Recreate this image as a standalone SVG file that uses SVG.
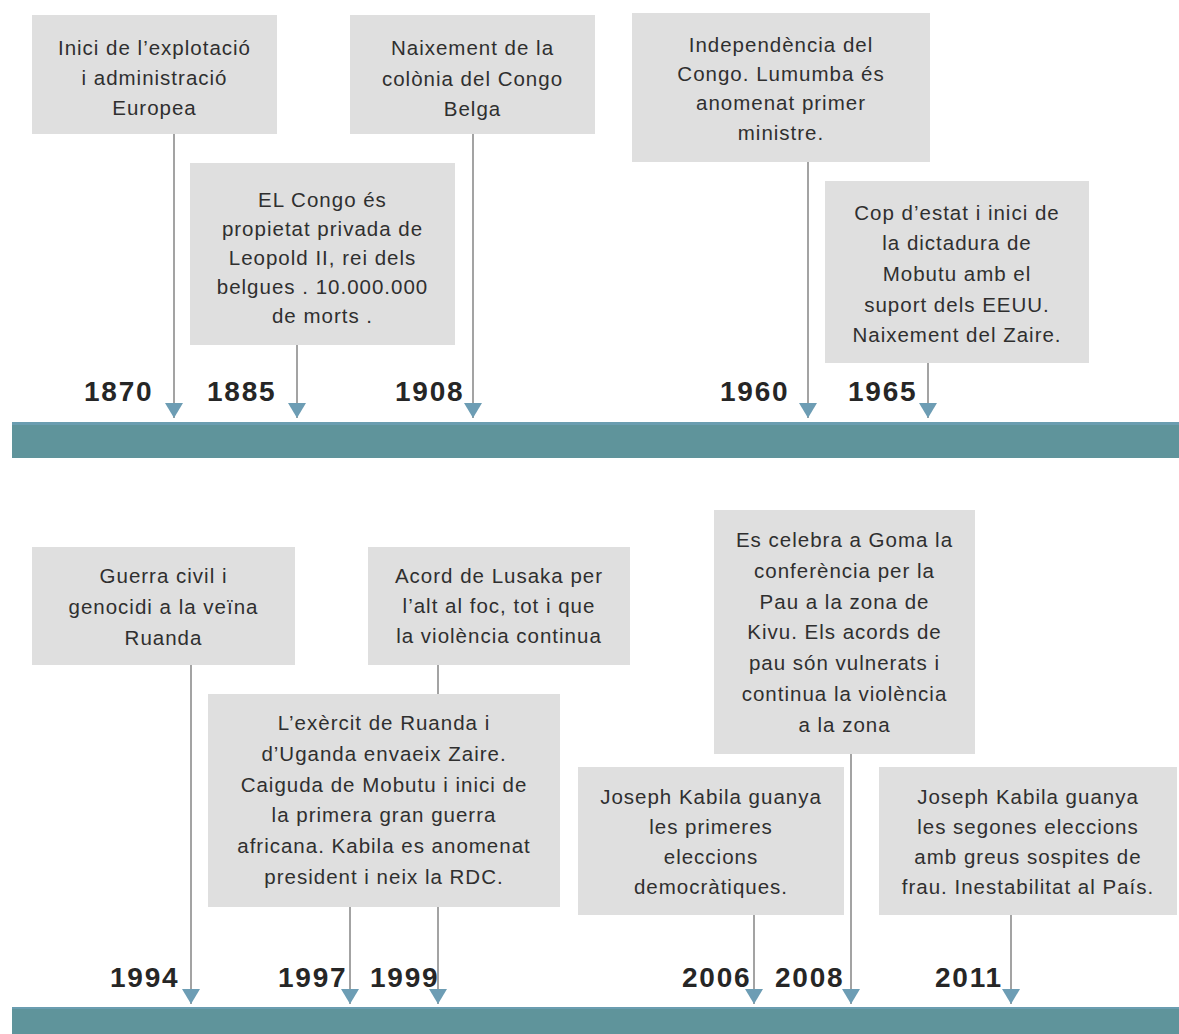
<svg xmlns="http://www.w3.org/2000/svg" width="1179" height="1034" viewBox="0 0 1179 1034">
<style>
.box{fill:#dfdfdf}
.t{font-family:"Liberation Sans",Arial,sans-serif;font-size:20.5px;letter-spacing:1px;fill:#2f2f2f;text-anchor:middle}
.yr{font-family:"Liberation Sans",Arial,sans-serif;font-size:28px;font-weight:bold;letter-spacing:1.8px;fill:#262626}
.bar{fill:#5f949b}
.bartop{fill:#6a9db0}
.ln{stroke:#a3a3a3;stroke-width:2;fill:none;marker-end:url(#ah)}
</style>
<defs>
<marker id="ah" markerUnits="userSpaceOnUse" markerWidth="18" markerHeight="18" refX="15" refY="9" orient="auto">
<path d="M0,0 L15,9 L0,18 Z" fill="#6d9db4"/>
</marker>
</defs>
<rect width="1179" height="1034" fill="#ffffff"/>
<g id="timeline-bars">
<rect class="bar" x="12" y="422" width="1167" height="36"/>
<rect class="bartop" x="12" y="422" width="1167" height="3"/>
<rect class="bar" x="12" y="1007" width="1167" height="27"/>
<rect class="bartop" x="12" y="1007" width="1167" height="2"/>
</g>
<g id="connectors">
<line class="ln" x1="174" y1="134" x2="174" y2="418"/>
<line class="ln" x1="297" y1="345" x2="297" y2="418"/>
<line class="ln" x1="473" y1="134" x2="473" y2="418"/>
<line class="ln" x1="808" y1="162" x2="808" y2="418"/>
<line class="ln" x1="928" y1="363" x2="928" y2="418"/>
<line class="ln" x1="191" y1="665" x2="191" y2="1004"/>
<line class="ln" x1="350" y1="907" x2="350" y2="1004"/>
<line class="ln" x1="438" y1="665" x2="438" y2="1004"/>
<line class="ln" x1="754" y1="915" x2="754" y2="1004"/>
<line class="ln" x1="851" y1="754" x2="851" y2="1004"/>
<line class="ln" x1="1011" y1="915" x2="1011" y2="1004"/>
</g>
<g id="years">
<text class="yr" x="84" y="401">1870</text>
<text class="yr" x="207" y="401">1885</text>
<text class="yr" x="395" y="401">1908</text>
<text class="yr" x="720" y="401">1960</text>
<text class="yr" x="848" y="401">1965</text>
<text class="yr" x="110" y="987">1994</text>
<text class="yr" x="278" y="987">1997</text>
<text class="yr" x="370" y="987">1999</text>
<text class="yr" x="682" y="987">2006</text>
<text class="yr" x="775" y="987">2008</text>
<text class="yr" x="935" y="987">2011</text>
</g>
<g id="n1870">
<rect class="box" x="32" y="15" width="245" height="119"/>
<text class="t" x="154.5" y="55">Inici de l’explotació</text>
<text class="t" x="154.5" y="85">i administració</text>
<text class="t" x="154.5" y="115">Europea</text>
</g>
<g id="n1885">
<rect class="box" x="190" y="163" width="265" height="182"/>
<text class="t" x="322.5" y="207">EL Congo és</text>
<text class="t" x="322.5" y="236">propietat privada de</text>
<text class="t" x="322.5" y="265">Leopold II, rei dels</text>
<text class="t" x="322.5" y="294">belgues . 10.000.000</text>
<text class="t" x="322.5" y="323">de morts .</text>
</g>
<g id="n1908">
<rect class="box" x="350" y="15" width="245" height="119"/>
<text class="t" x="472.5" y="55">Naixement de la</text>
<text class="t" x="472.5" y="86">colònia del Congo</text>
<text class="t" x="472.5" y="116">Belga</text>
</g>
<g id="n1960">
<rect class="box" x="632" y="13" width="298" height="149"/>
<text class="t" x="781" y="52">Independència del</text>
<text class="t" x="781" y="81">Congo. Lumumba és</text>
<text class="t" x="781" y="110">anomenat primer</text>
<text class="t" x="781" y="140">ministre.</text>
</g>
<g id="n1965">
<rect class="box" x="825" y="181" width="264" height="182"/>
<text class="t" x="957" y="220">Cop d’estat i inici de</text>
<text class="t" x="957" y="250">la dictadura de</text>
<text class="t" x="957" y="281">Mobutu amb el</text>
<text class="t" x="957" y="312">suport dels EEUU.</text>
<text class="t" x="957" y="342">Naixement del Zaire.</text>
</g>
<g id="n1994">
<rect class="box" x="32" y="547" width="263" height="118"/>
<text class="t" x="163.5" y="583">Guerra civil i</text>
<text class="t" x="163.5" y="614">genocidi a la veïna</text>
<text class="t" x="163.5" y="645">Ruanda</text>
</g>
<g id="n1999">
<rect class="box" x="368" y="547" width="262" height="118"/>
<text class="t" x="499" y="583">Acord de Lusaka per</text>
<text class="t" x="499" y="613">l’alt al foc, tot i que</text>
<text class="t" x="499" y="643">la violència continua</text>
</g>
<g id="n1997">
<rect class="box" x="208" y="694" width="352" height="213"/>
<text class="t" x="384" y="730">L’exèrcit de Ruanda i</text>
<text class="t" x="384" y="761">d’Uganda envaeix Zaire.</text>
<text class="t" x="384" y="792">Caiguda de Mobutu i inici de</text>
<text class="t" x="384" y="822">la primera gran guerra</text>
<text class="t" x="384" y="853">africana. Kabila es anomenat</text>
<text class="t" x="384" y="884">president i neix la RDC.</text>
</g>
<g id="n2008">
<rect class="box" x="714" y="510" width="261" height="244"/>
<text class="t" x="844.5" y="547">Es celebra a Goma la</text>
<text class="t" x="844.5" y="578">conferència per la</text>
<text class="t" x="844.5" y="609">Pau a la zona de</text>
<text class="t" x="844.5" y="639">Kivu. Els acords de</text>
<text class="t" x="844.5" y="670">pau són vulnerats i</text>
<text class="t" x="844.5" y="701">continua la violència</text>
<text class="t" x="844.5" y="732">a la zona</text>
</g>
<g id="n2006">
<rect class="box" x="578" y="767" width="266" height="148"/>
<text class="t" x="711" y="804">Joseph Kabila guanya</text>
<text class="t" x="711" y="834">les primeres</text>
<text class="t" x="711" y="864">eleccions</text>
<text class="t" x="711" y="894">democràtiques.</text>
</g>
<g id="n2011">
<rect class="box" x="879" y="767" width="298" height="148"/>
<text class="t" x="1028" y="804">Joseph Kabila guanya</text>
<text class="t" x="1028" y="834">les segones eleccions</text>
<text class="t" x="1028" y="864">amb greus sospites de</text>
<text class="t" x="1028" y="894">frau. Inestabilitat al País.</text>
</g>
</svg>
